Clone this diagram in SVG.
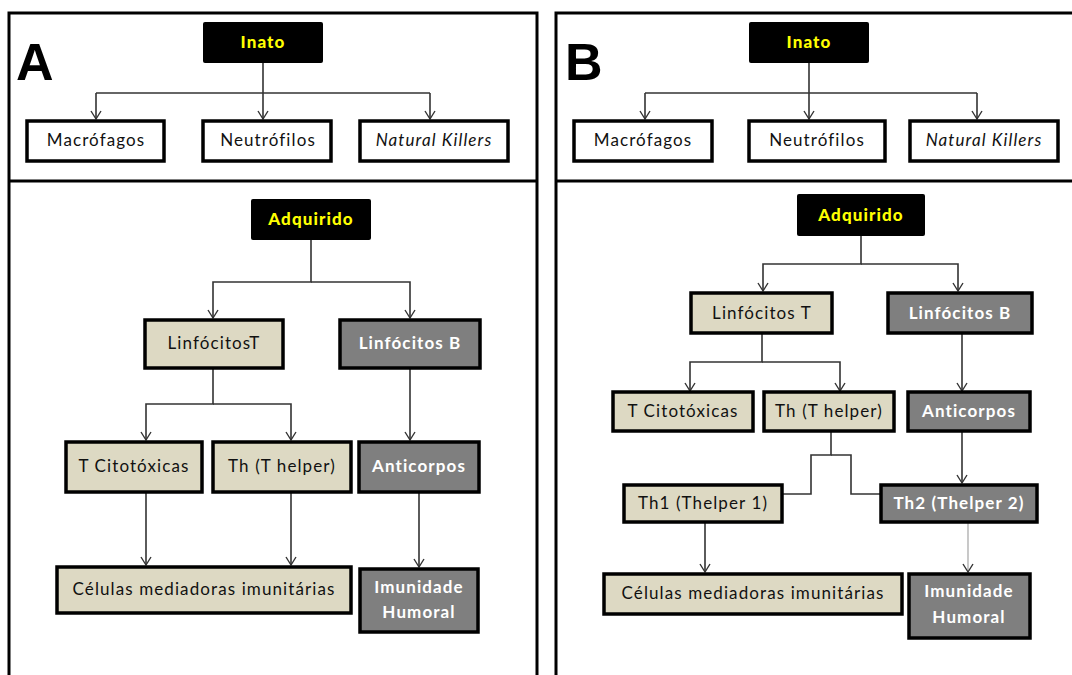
<svg xmlns="http://www.w3.org/2000/svg" width="1072" height="675" viewBox="0 0 1072 675">
<style>
text{font-family:Lato,"Liberation Sans",sans-serif;font-size:17px;letter-spacing:1.1px;text-anchor:middle;fill:#111}
.frame{fill:none;stroke:#000;stroke-width:3}
.lbl{font-family:"Liberation Sans",Arial,sans-serif;font-size:52px;font-weight:bold;letter-spacing:0;text-anchor:start;fill:#000}
.dark rect{fill:#000;rx:2}
.dark text{fill:#ff0;font-weight:900}
.white rect{fill:#fff;stroke:#000;stroke-width:3.5}
.beige rect{fill:#ddd9c3;stroke:#000;stroke-width:3.5}
.gray rect{fill:#7f7f7f;stroke:#000;stroke-width:3.5}
.gray text{fill:#fff;font-weight:bold}
.it{font-style:italic}
.c{fill:none;stroke:#333;stroke-width:1.6}
.a{marker-end:url(#ah)}
.lg{stroke:#bbb}
</style>
<defs>
<marker id="ah" markerUnits="userSpaceOnUse" markerWidth="12" markerHeight="12" viewBox="-1 -6 10 12" refX="8" refY="0" orient="auto">
<path d="M0,-5 L8,0 L0,5" fill="none" stroke="#333" stroke-width="1.4"/>
</marker>
</defs>
<g id="frames">
<path class="frame" d="M9,675 V13 H537 V675"/>
<path class="frame" d="M9,181 H537"/>
<path class="frame" d="M556,675 V13 H1072"/>
<path class="frame" d="M556,181 H1072"/>
<text class="lbl" x="16" y="80">A</text>
<text class="lbl" x="565" y="80">B</text>
</g>
<g id="connectors">
<path class="c a" d="M263,63 V119"/>
<path class="c" d="M96,93 H430"/>
<path class="c a" d="M96,93 V119"/>
<path class="c a" d="M430,93 V119"/>
<path class="c a" d="M311,240 V282 H213 V318"/>
<path class="c a" d="M311,282 H410 V318"/>
<path class="c a" d="M213,368 V404 H146 V440"/>
<path class="c a" d="M213,404 H291 V440"/>
<path class="c a" d="M410,368 V440"/>
<path class="c a" d="M146,492 V565"/>
<path class="c a" d="M291,492 V565"/>
<path class="c a" d="M419,492 V567"/>
<path class="c a" d="M809,63 V119"/>
<path class="c" d="M645,93 H977"/>
<path class="c a" d="M645,93 V119"/>
<path class="c a" d="M977,93 V119"/>
<path class="c a" d="M861,236 V264 H763 V291"/>
<path class="c a" d="M861,264 H958 V291"/>
<path class="c a" d="M762,333 V362 H690 V391"/>
<path class="c a" d="M762,362 H840 V391"/>
<path class="c a" d="M962,333 V391"/>
<path class="c" d="M831,431 V455 H811 V494 H783"/>
<path class="c" d="M831,455 H851 V494 H881"/>
<path class="c a" d="M962,431 V483"/>
<path class="c a" d="M705,522 V572"/>
<path class="c lg a" d="M968,522 V572"/>
</g>
<g id="A-inato" class="dark"><rect x="203" y="22" width="120" height="41"/><text x="263" y="48">Inato</text></g>
<g id="A-macrofagos" class="white"><rect x="27" y="121" width="137" height="40"/><text x="96" y="146">Macrófagos</text></g>
<g id="A-neutrofilos" class="white"><rect x="203" y="121" width="128" height="40"/><text x="268" y="146">Neutrófilos</text></g>
<g id="A-nk" class="white"><rect x="360" y="121" width="148" height="40"/><text class="it" x="434" y="146">Natural Killers</text></g>
<g id="A-adquirido" class="dark"><rect x="251" y="199" width="120" height="41"/><text x="311" y="225">Adquirido</text></g>
<g id="A-lt" class="beige"><rect x="145" y="320" width="138" height="48"/><text x="214" y="349">LinfócitosT</text></g>
<g id="A-lb" class="gray"><rect x="340" y="320" width="140" height="48"/><text x="410" y="349">Linfócitos B</text></g>
<g id="A-tc" class="beige"><rect x="66" y="442" width="136" height="50"/><text x="134" y="472">T Citotóxicas</text></g>
<g id="A-th" class="beige"><rect x="213" y="442" width="138" height="50"/><text x="282" y="472">Th (T helper)</text></g>
<g id="A-anticorpos" class="gray"><rect x="359" y="442" width="120" height="50"/><text x="419" y="472">Anticorpos</text></g>
<g id="A-celulas" class="beige"><rect x="57" y="567" width="294" height="46"/><text x="204" y="595">Células mediadoras imunitárias</text></g>
<g id="A-imunidade" class="gray"><rect x="360" y="569" width="118" height="63"/><text x="419" y="593">Imunidade</text><text x="419" y="618">Humoral</text></g>
<g id="B-inato" class="dark"><rect x="749" y="22" width="120" height="41"/><text x="809" y="48">Inato</text></g>
<g id="B-macrofagos" class="white"><rect x="574" y="121" width="138" height="40"/><text x="643" y="146">Macrófagos</text></g>
<g id="B-neutrofilos" class="white"><rect x="749" y="121" width="136" height="40"/><text x="817" y="146">Neutrófilos</text></g>
<g id="B-nk" class="white"><rect x="910" y="121" width="148" height="40"/><text class="it" x="984" y="146">Natural Killers</text></g>
<g id="B-adquirido" class="dark"><rect x="797" y="194" width="128" height="42"/><text x="861" y="221">Adquirido</text></g>
<g id="B-lt" class="beige"><rect x="691" y="293" width="141" height="40"/><text x="762" y="319">Linfócitos T</text></g>
<g id="B-lb" class="gray"><rect x="888" y="293" width="144" height="40"/><text x="960" y="319">Linfócitos B</text></g>
<g id="B-tc" class="beige"><rect x="613" y="392" width="140" height="39"/><text x="683" y="417">T Citotóxicas</text></g>
<g id="B-th" class="beige"><rect x="764" y="392" width="130" height="39"/><text x="829" y="417">Th (T helper)</text></g>
<g id="B-anticorpos" class="gray"><rect x="908" y="392" width="122" height="39"/><text x="969" y="417">Anticorpos</text></g>
<g id="B-th1" class="beige"><rect x="624" y="485" width="158" height="37"/><text x="703" y="509">Th1 (Thelper 1)</text></g>
<g id="B-th2" class="gray"><rect x="881" y="485" width="156" height="37"/><text x="959" y="509">Th2 (Thelper 2)</text></g>
<g id="B-celulas" class="beige"><rect x="604" y="574" width="298" height="40"/><text x="753" y="599">Células mediadoras imunitárias</text></g>
<g id="B-imunidade" class="gray"><rect x="909" y="574" width="121" height="64"/><text x="969" y="597">Imunidade</text><text x="969" y="623">Humoral</text></g>
</svg>
